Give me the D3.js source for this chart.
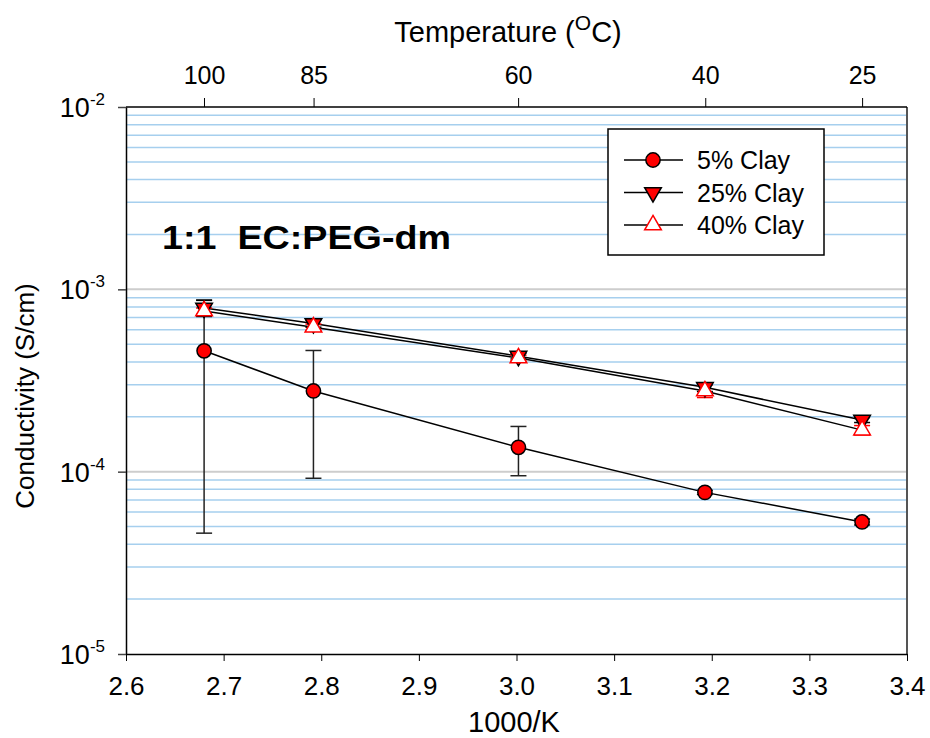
<!DOCTYPE html>
<html>
<head>
<meta charset="utf-8">
<script src="https://cdn.jsdelivr.net/npm/d3@7"></script>
<style>
  body { margin: 0; background: #fff; }
  text { font-family: "Liberation Sans", Arial, sans-serif; }
</style>
</head>
<body>
<svg width="930" height="738"></svg>
<script>
// data
var invK = [2.680, 2.792, 3.002, 3.193, 3.354]
var clay5 = [4.6e-4, 2.77e-4, 1.36e-4, 7.7e-5, 5.3e-5]
var err5 = [4.14e-4, 1.85e-4, 4.1e-5, 2e-6, 2e-6]
var clay25 = [7.9e-4, 6.5e-4, 4.3e-4, 2.9e-4, 1.92e-4]
var err25 = [8e-5, 3e-5, 1.5e-5, 1.5e-5, 6e-6]
var clay40 = [7.6e-4, 6.2e-4, 4.2e-4, 2.77e-4, 1.69e-4]
var err40 = [3e-5, 2.5e-5, 1.5e-5, 2.2e-5, 1e-5]
var tempTicks = [100, 85, 60, 40, 25]
var xTicks = [2.6, 2.7, 2.8, 2.9, 3.0, 3.1, 3.2, 3.3, 3.4]
var yDecades = [-5, -4, -3, -2]
var seriesNames = ["5% Clay", "25% Clay", "40% Clay"]

var svg = d3.select("svg")
var pLeft = 126, pRight = 907, pTop = 107, pBottom = 654

var x = d3.scaleLinear().domain([2.6, 3.4]).range([pLeft, pRight])
var y = d3.scaleLog().domain([1e-5, 1e-2]).range([pBottom, pTop])

//gridlines: blue minor, gray at decades
var minor = []
yDecades.slice(0, 3).forEach(function (e) {
    for (var m = 2; m <= 9; m++) minor.push(m * Math.pow(10, e))
})
svg.append("g")
    .selectAll("line")
    .data(minor)
    .enter().append("line")
    .attr("x1", pLeft).attr("x2", pRight)
    .attr("y1", d => y(d)).attr("y2", d => y(d))
    .style("stroke", "rgb(166,207,238)")
    .style("stroke-width", 1.5)
svg.append("g")
    .selectAll("line")
    .data([1e-4, 1e-3])
    .enter().append("line")
    .attr("x1", pLeft).attr("x2", pRight)
    .attr("y1", d => y(d)).attr("y2", d => y(d))
    .style("stroke", "#cdcdcd")
    .style("stroke-width", 2)

//frame
svg.append("line").attr("x1", pRight).attr("x2", pRight).attr("y1", pTop).attr("y2", pBottom)
    .style("stroke", "#555").style("stroke-width", 2)
svg.append("line").attr("x1", pLeft).attr("x2", pRight).attr("y1", pTop).attr("y2", pTop)
    .style("stroke", "#000").style("stroke-width", 1.5)

//bottom axis
var xAxis = svg.append("g")
    .attr("transform", "translate(0," + pBottom + ")")
    .call(d3.axisBottom(x).tickValues(xTicks).tickFormat(d3.format(".1f")).tickSize(7).tickSizeOuter(0))
xAxis.select(".domain").style("stroke-width", 1.5)
xAxis.selectAll("text").attr("font-size", 26).attr("dy", "1.2em").attr("fill", "#000")

//top axis: temperature
var topAxis = svg.append("g")
    .attr("transform", "translate(0," + pTop + ")")
    .call(d3.axisTop(x).tickValues(tempTicks.map(t => 1000 / (t + 273.15))).tickFormat((d, i) => tempTicks[i]).tickSize(9).tickSizeOuter(0))
topAxis.select(".domain").remove()
topAxis.selectAll("text").attr("font-size", 25).attr("dy", "-0.45em").attr("fill", "#000")

//left axis with 10^n labels
var yAxis = svg.append("g")
    .attr("transform", "translate(" + pLeft + ",0)")
    .call(d3.axisLeft(y).tickValues(yDecades.map(e => Math.pow(10, e))).tickFormat("").tickSize(8).tickSizeOuter(0))
yAxis.select(".domain").style("stroke-width", 1.5)
yAxis.selectAll("line").style("stroke", "#444").style("stroke-width", 1.5)
var yLab = svg.append("g")
    .selectAll("text")
    .data(yDecades)
    .enter().append("text")
    .attr("x", 105)
    .attr("y", d => y(Math.pow(10, d)) + 10)
    .attr("text-anchor", "end")
    .attr("font-size", 27)
yLab.append("tspan").text("10")
yLab.append("tspan").text(d => "-" + Math.abs(d)).attr("font-size", 17).attr("dy", -12)

//axis titles
svg.append("text").attr("x", 514).attr("y", 732).attr("text-anchor", "middle")
    .attr("font-size", 29).text("1000/K")
svg.append("text").attr("transform", "translate(34,396) rotate(-90)").attr("text-anchor", "middle")
    .attr("font-size", 26).text("Conductivity (S/cm)")
var tt = svg.append("text").attr("x", 508).attr("y", 42).attr("text-anchor", "middle").attr("font-size", 29)
tt.append("tspan").text("Temperature (")
tt.append("tspan").text("O").attr("font-size", 21).attr("dy", -12)
tt.append("tspan").text("C)").attr("dy", 12)

//annotation
svg.append("text").attr("x", 162).attr("y", 249)
    .attr("font-size", 34).attr("font-weight", "bold")
    .style("white-space", "pre")
    .attr("textLength", 289).attr("lengthAdjust", "spacingAndGlyphs")
    .text("1:1  EC:PEG-dm")

var line = d3.line().x((d, i) => x(invK[i])).y(d => y(d))
var sym = {
    circle: d3.symbol().type(d3.symbolCircle).size(160),
    down: d3.symbol().type(d3.symbolTriangle).size(120),
    up: d3.symbol().type(d3.symbolTriangle).size(120)
}
var series = [
    { vals: clay5, err: err5, shape: "circle", fill: "red", stroke: "#000", errColor: "#222" },
    { vals: clay25, err: err25, shape: "down", fill: "red", stroke: "#000", errColor: "#000" },
    { vals: clay40, err: err40, shape: "up", fill: "#fff", stroke: "red", errColor: "red" }
]

series.forEach(function (s) {
    svg.append("path").datum(s.vals).attr("d", line)
        .style("fill", "none").style("stroke", "#000").style("stroke-width", 1.5)
})

series.forEach(function (s) {
    var g = svg.append("g")
    //error bars
    var eb = g.selectAll("g.eb").data(s.vals).enter().append("g")
    eb.append("line")
        .attr("x1", (d, i) => x(invK[i])).attr("x2", (d, i) => x(invK[i]))
        .attr("y1", (d, i) => y(d + s.err[i])).attr("y2", (d, i) => y(d - s.err[i]))
        .style("stroke", s.errColor).style("stroke-width", 1.5)
    ;[1, -1].forEach(function (sg) {
        eb.append("line")
            .attr("x1", (d, i) => x(invK[i]) - 8).attr("x2", (d, i) => x(invK[i]) + 8)
            .attr("y1", (d, i) => y(d + sg * s.err[i])).attr("y2", (d, i) => y(d + sg * s.err[i]))
            .style("stroke", s.errColor).style("stroke-width", 1.5)
    })
})

series.forEach(function (s) {
    svg.append("g").selectAll("path").data(s.vals).enter().append("path")
        .attr("d", sym[s.shape])
        .attr("transform", (d, i) => "translate(" + x(invK[i]) + "," + y(d) + ")" + (s.shape == "down" ? " rotate(180)" : ""))
        .style("fill", s.fill).style("stroke", s.stroke).style("stroke-width", 1.5)
})

//legend
var lg = svg.append("g")
lg.append("rect").attr("x", 608).attr("y", 129).attr("width", 216).attr("height", 126)
    .style("fill", "#fff").style("stroke", "#000").style("stroke-width", 1.5)
var ly = d3.scalePoint().domain(seriesNames).range([160, 225])
series.forEach(function (s, i) {
    var yy = ly(seriesNames[i])
    lg.append("line").attr("x1", 624).attr("x2", 683).attr("y1", yy).attr("y2", yy)
        .style("stroke", "#000").style("stroke-width", 1.5)
    lg.append("path").attr("d", sym[s.shape])
        .attr("transform", "translate(653," + yy + ")" + (s.shape == "down" ? " rotate(180)" : ""))
        .style("fill", s.fill).style("stroke", s.stroke).style("stroke-width", 1.5)
    lg.append("text").attr("x", 697).attr("y", yy + 9).attr("font-size", 25).text(seriesNames[i])
})
</script>
</body>
</html>
